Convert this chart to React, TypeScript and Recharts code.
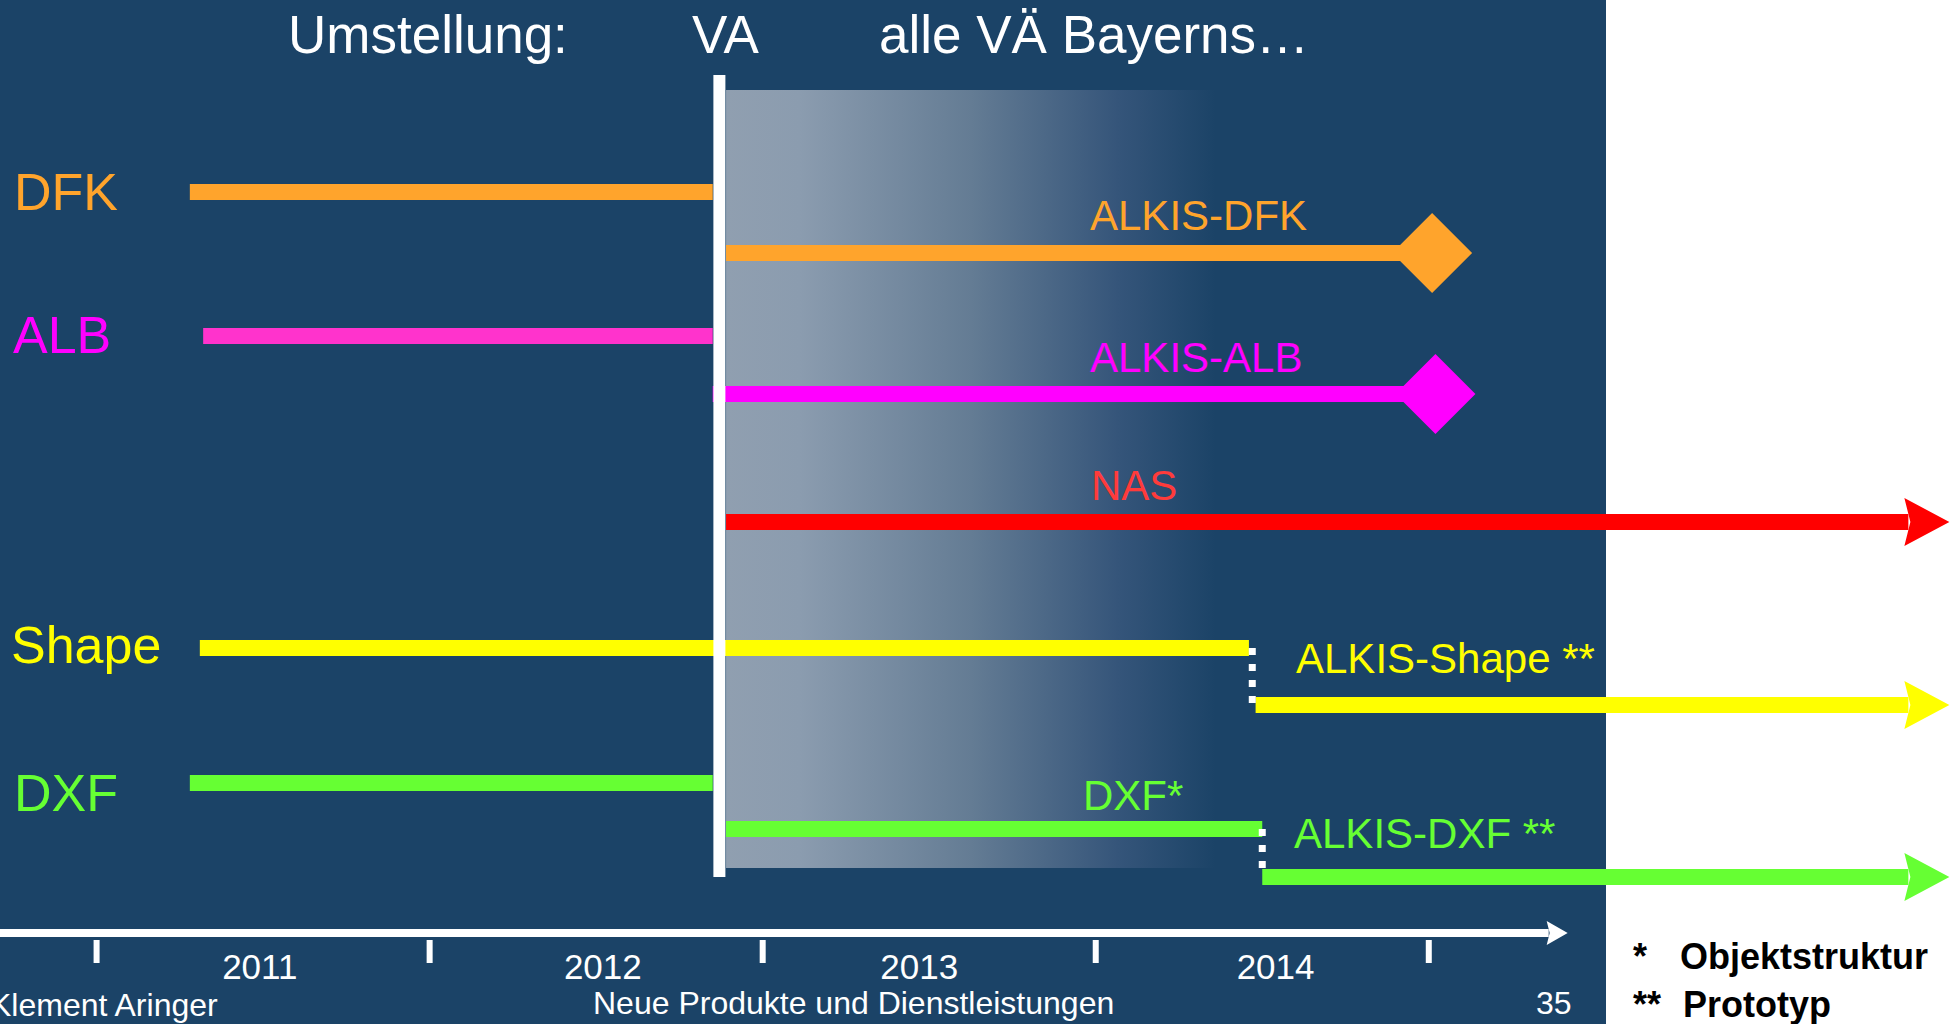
import React from 'react';
import { ComposedChart, Line, XAxis, YAxis, ReferenceArea, ReferenceLine } from 'recharts';

// year boundaries (tick marks) and year labels with where they sit inside each year
const yearTicks = [2011, 2012, 2013, 2014, 2015];
const yearLabels = [2011, 2012, 2013, 2014];
const yearLabelPos = [2011.49, 2012.52, 2013.47, 2014.54];

// timeline segments: start / end in years, lane = vertical position (top = 0)
const segNames = ['DFK', 'ALKIS-DFK', 'ALB', 'ALKIS-ALB', 'NAS', 'Shape', 'ALKIS-Shape', 'DXF', 'DXF*', 'ALKIS-DXF'];
const segStart = [2011.28, 2012.89, 2011.32, 2012.85, 2012.89, 2011.31, 2014.48, 2011.28, 2012.89, 2014.5];
const segEnd = [2012.85, 2015.01, 2012.85, 2015.02, 2016.44, 2014.46, 2016.44, 2012.85, 2014.5, 2016.44];
const segLane = [19.2, 25.3, 33.6, 39.4, 52.2, 64.8, 70.5, 78.3, 82.9, 87.7];
const segEndKind = ['none', 'diamond', 'none', 'diamond', 'arrow', 'none', 'arrow', 'none', 'none', 'arrow'];

// switch-overs (dotted white connectors)
const switchYear = [2014.47, 2014.5];
const switchFrom = [64.8, 82.9];
const switchTo = [70.5, 87.7];

// time arrow
const axisStart = 2010.71;
const axisEnd = 2015.36;
const axisLane = 93.3;

// VA change-over and the fading "all offices" band
const vaYear = 2012.87;
const vaTop = 7.5;
const vaBottom = 87.7;
const fadeStart = 2012.89;
const fadeEnd = 2014.36;
const fadeTop = 9.0;
const fadeBottom = 86.8;

const BG = '#1b4367';
const FONT = '"Liberation Sans", Arial, sans-serif';
const segColors = ['#ffa42c', '#ffa42c', '#ff33cc', '#ff00ff', '#ff0000', '#ffff00', '#ffff00', '#66ff33', '#66ff33', '#66ff33'];

const endMark = (kind: string, color: string) => (p: any) => {
  const { cx, cy, index } = p;
  if (index !== 1 || kind === 'none') return <g key={`m${index}`} />;
  if (kind === 'diamond') {
    return (
      <polygon
        key={`m${index}`}
        points={`${cx - 40},${cy} ${cx},${cy - 40} ${cx + 40},${cy} ${cx},${cy + 40}`}
        fill={color}
      />
    );
  }
  return (
    <polygon
      key={`m${index}`}
      points={`${cx - 4},${cy - 24} ${cx + 41},${cy} ${cx - 4},${cy + 24} ${cx + 2},${cy}`}
      fill={color}
    />
  );
};

const axisArrow = (p: any) => {
  const { cx, cy, index } = p;
  if (index !== 1) return <g key={`a${index}`} />;
  return (
    <polygon
      key={`a${index}`}
      points={`${cx - 2},${cy - 12} ${cx + 19},${cy} ${cx - 2},${cy + 12} ${cx + 1},${cy}`}
      fill="#fff"
    />
  );
};

const YearTick = (p: any) => {
  const { x, y, payload } = p;
  const v = payload.value;
  if (yearTicks.includes(v)) {
    return <rect x={x - 3} y={y + 7} width={6} height={23} fill="#fff" />;
  }
  const label = yearLabels[yearLabelPos.indexOf(v)];
  return (
    <text x={x} y={y + 46} textAnchor="middle" fill="#fff" fontSize={35} fontFamily={FONT}>
      {label}
    </text>
  );
};

const allTicks = [...yearTicks, ...yearLabelPos].sort((a, b) => a - b);

export default function App() {
  return (
    <div
      style={{
        position: 'absolute',
        left: 0,
        top: 0,
        width: 1955,
        height: 1024,
        background: '#fff',
        overflow: 'hidden',
        fontFamily: FONT,
      }}
    >
      <div style={{ position: 'absolute', left: 0, top: 0, width: 1606, height: 1024, background: BG }} />
      <div style={{ position: 'absolute', left: 0, top: 0 }}>
        <ComposedChart width={1955} height={1024} margin={{ top: 0, right: 0, bottom: 0, left: 0 }}>
          <defs>
            <linearGradient id="fade" x1="0" y1="0" x2="1" y2="0">
              <stop offset="0%" stopColor="#909fb0" />
              <stop offset="15%" stopColor="#8b9caf" />
              <stop offset="50%" stopColor="#647c94" />
              <stop offset="80%" stopColor="#35557a" />
              <stop offset="100%" stopColor={BG} />
            </linearGradient>
          </defs>
          <XAxis
            type="number"
            dataKey="x"
            domain={[2010.71, 2016.58]}
            ticks={allTicks}
            interval={0}
            height={91}
            axisLine={false}
            tickLine={false}
            tickSize={0}
            tickMargin={0}
            tick={YearTick}
          />
          <YAxis type="number" dataKey="y" domain={[0, 93.3]} reversed hide />
          <ReferenceArea
            x1={fadeStart}
            x2={fadeEnd}
            y1={fadeTop}
            y2={fadeBottom}
            fill="url(#fade)"
            fillOpacity={1}
            stroke="none"
          />
          {segNames.map((name, i) => (
            <Line
              key={name}
              name={name}
              data={[
                { x: segStart[i], y: segLane[i] },
                { x: segEnd[i], y: segLane[i] },
              ]}
              dataKey="y"
              stroke={segColors[i]}
              strokeWidth={16}
              dot={endMark(segEndKind[i], segColors[i])}
              activeDot={false}
              isAnimationActive={false}
            />
          ))}
          {switchYear.map((yr, i) => (
            <Line
              key={`sw${i}`}
              data={[
                { x: yr, y: switchFrom[i] },
                { x: yr, y: switchTo[i] },
              ]}
              dataKey="y"
              stroke="#fff"
              strokeWidth={7}
              strokeDasharray="7 9"
              dot={false}
              activeDot={false}
              isAnimationActive={false}
            />
          ))}
          <Line
            data={[
              { x: axisStart, y: axisLane },
              { x: axisEnd, y: axisLane },
            ]}
            dataKey="y"
            stroke="#fff"
            strokeWidth={8}
            dot={axisArrow}
            activeDot={false}
            isAnimationActive={false}
          />
          <ReferenceLine
            segment={[
              { x: vaYear, y: vaTop },
              { x: vaYear, y: vaBottom },
            ]}
            stroke="#fff"
            strokeWidth={12}
          />
        </ComposedChart>
      </div>
      <svg
        width={1955}
        height={1024}
        style={{ position: 'absolute', left: 0, top: 0, pointerEvents: 'none' }}
        fontFamily={FONT}
      >
        <g fill="#fff" fontSize={53}>
          <text x={288} y={53}>Umstellung:</text>
          <text x={692} y={53}>VA</text>
          <text x={879} y={53}>alle VÄ Bayerns…</text>
        </g>
        <g fontSize={52}>
          <text x={14} y={210} fill="#ffa42c">DFK</text>
          <text x={13} y={353} fill="#ff00ff">ALB</text>
          <text x={11} y={663} fill="#ffff00">Shape</text>
          <text x={14} y={811} fill="#66ff33">DXF</text>
        </g>
        <g fontSize={42}>
          <text x={1090} y={230} fill="#ffa42c">ALKIS-DFK</text>
          <text x={1090} y={372} fill="#ff00ff">ALKIS-ALB</text>
          <text x={1091} y={500} fill="#ff3b3b">NAS</text>
          <text x={1296} y={673} fill="#ffff00">ALKIS-Shape **</text>
          <text x={1083} y={810} fill="#66ff33">DXF*</text>
          <text x={1294} y={848} fill="#66ff33">ALKIS-DXF **</text>
        </g>
        <g fill="#fff" fontSize={32}>
          <text x={-10} y={1016}>Klement Aringer</text>
          <text x={593} y={1014}>Neue Produkte und Dienstleistungen</text>
          <text x={1536} y={1014}>35</text>
        </g>
        <g fill="#000" fontSize={36} fontWeight="bold">
          <text x={1633} y={969}>*</text>
          <text x={1680} y={969}>Objektstruktur</text>
          <text x={1633} y={1017}>**</text>
          <text x={1683} y={1017}>Prototyp</text>
        </g>
      </svg>
    </div>
  );
}
